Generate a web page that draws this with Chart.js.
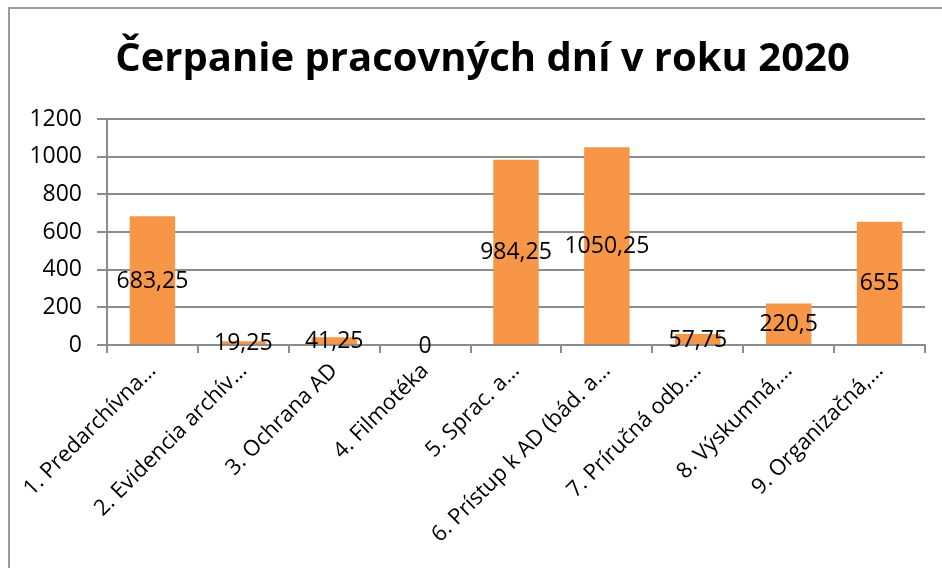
<!DOCTYPE html>
<html>
<head>
<meta charset="utf-8">
<script src="https://cdn.jsdelivr.net/npm/chart.js@4"></script>
<style>
  html, body { margin: 0; padding: 0; background: #fff; overflow: hidden; }
  #frame { position: absolute; left: 8px; top: 7px; width: 1000px; height: 700px; border: 2px solid #9a9a9a; box-sizing: border-box; }
  #wrap { position: absolute; left: 0; top: 0; width: 942px; height: 568px; }
</style>
</head>
<body>
<div id="frame"></div>
<div id="wrap"><canvas id="chart" width="942" height="568"></canvas></div>
<script>
const chartTitle = "Čerpanie pracovných dní v roku 2020";
const categories = [
  "1. Predarchívna…",
  "2. Evidencia archív…",
  "3. Ochrana AD",
  "4. Filmotéka",
  "5. Sprac. a…",
  "6. Prístup k AD (bád. a…",
  "7. Príručná odb.…",
  "8. Výskumná,…",
  "9. Organizačná,…",
];
const days = [683.25, 19.25, 41.25, 0, 984.25, 1050.25, 57.75, 220.5, 655];
const yTicks = [0, 200, 400, 600, 800, 1000, 1200];

const FONT = "'Open Sans', sans-serif";

// labels drawn in the middle of each bar, Excel style (decimal comma)
const barLabels = {
  id: "barLabels",
  afterLayout(chart) {
    // the original title is centred on the whole chart frame, a bit right of the canvas middle
    const t = chart.titleBlock;
    if (t) { t.left += 15; t.right += 15; }
  },
  afterDatasetsDraw(chart) {
    const ctx = chart.ctx;
    const meta = chart.getDatasetMeta(0);
    ctx.save();
    ctx.font = "23px " + FONT;
    ctx.fillStyle = "#000";
    ctx.textAlign = "center";
    ctx.textBaseline = "middle";
    meta.data.forEach((bar, i) => {
      const y = (bar.y + bar.base) / 2;
      ctx.fillText(String(days[i]).replace(".", ","), bar.x, y + 1);
    });
    ctx.restore();
  },
};

const ctx = document.getElementById("chart").getContext("2d");
new Chart(ctx, {
  type: "bar",
  data: {
    labels: categories,
    datasets: [
      {
        label: "Dni",
        data: days,
        backgroundColor: "#F79646",
        barPercentage: 0.5,
        categoryPercentage: 1,
      },
    ],
  },
  options: {
    responsive: false,
    animation: false,
    layout: { padding: { left: 10, right: 17, top: 0, bottom: 0 } },
    plugins: {
      legend: { display: false },
      tooltip: { enabled: false },
      title: {
        display: true,
        text: chartTitle,
        color: "#000",
        font: { family: FONT, size: 40, weight: "bold", lineHeight: 1.2 },
        padding: { top: 36, bottom: 35 },
      },
    },
    scales: {
      x: {
        grid: { drawOnChartArea: false, drawTicks: true, tickLength: 8, color: "#8c8c8c", lineWidth: 2 },
        border: { color: "#8c8c8c", width: 2 },
        ticks: {
          color: "#000",
          font: { family: FONT, size: 22 },
          maxRotation: 45,
          minRotation: 45,
          autoSkip: false,
          padding: 5,
        },
        afterFit: (s) => { s.height = 223; },
      },
      y: {
        min: 0,
        max: 1200,
        afterBuildTicks: (s) => { s.ticks = yTicks.map((v) => ({ value: v })); },
        grid: { color: "#8c8c8c", lineWidth: 2, tickLength: 10 },
        border: { color: "#8c8c8c", width: 2 },
        ticks: { color: "#000", font: { family: FONT, size: 23 }, padding: 15, callback: (v) => String(v) },
        afterFit: (s) => { s.width = 97; },
      },
    },
  },
  plugins: [barLabels],
});
</script>
</body>
</html>
